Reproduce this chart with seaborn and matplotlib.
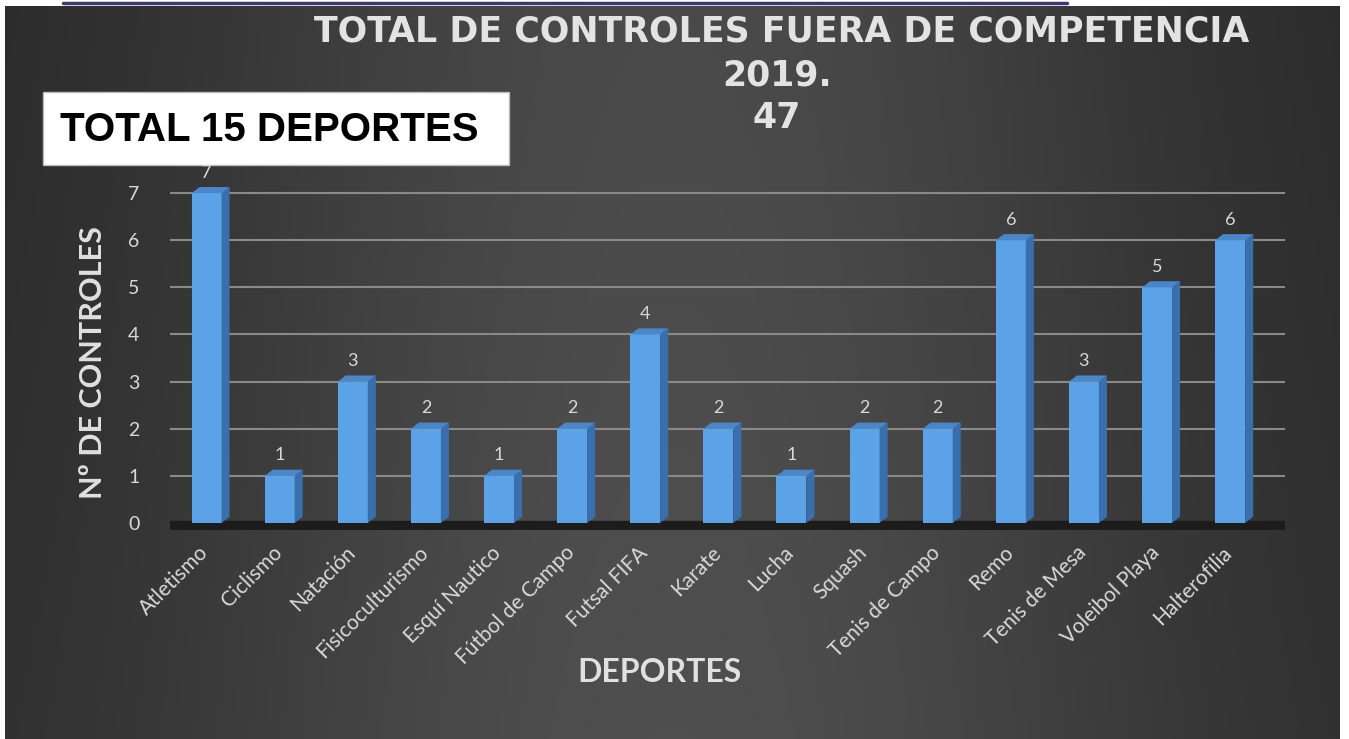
import matplotlib
matplotlib.use('Agg')
import matplotlib.pyplot as plt
import matplotlib.transforms as mtransforms
import seaborn as sns
import numpy as np
import pandas as pd
from matplotlib.patches import Polygon, Rectangle

# datos
deportes = ['Atletismo', 'Ciclismo', 'Natación', 'Fisicoculturismo', 'Esquí Nautico',
            'Fútbol de Campo', 'Futsal FIFA', 'Karate', 'Lucha', 'Squash',
            'Tenis de Campo', 'Remo', 'Tenis de Mesa', 'Voleibol Playa', 'Halterofilia']
controles = [7, 1, 3, 2, 1, 2, 4, 2, 1, 2, 2, 6, 3, 5, 6]
y_ticks = [0, 1, 2, 3, 4, 5, 6, 7]

titulo = 'TOTAL DE CONTROLES FUERA DE COMPETENCIA'
subtitulo = '2019.'
total = '47'
recuadro = 'TOTAL 15 DEPORTES'

df = pd.DataFrame({'deporte': deportes, 'controles': controles})

sns.set_style('dark')
plt.rcParams['font.family'] = ['Lato', 'DejaVu Sans']

W, H = 1349, 739
fig = plt.figure(figsize=(W / 100, H / 100), dpi=100)
fig.patch.set_facecolor('white')

# fondo con degradado
bg = fig.add_axes([0, 0, 1, 1])
bg.set_xlim(0, W)
bg.set_ylim(H, 0)
bg.axis('off')
u = np.linspace(0, 1, 400)
v = np.linspace(0, 1, 200)
U, V = np.meshgrid(u, v)
val = 0.15 + 0.14 * np.exp(-((U - 0.5) / 0.38) ** 2) + 0.02 * V
img = np.dstack([val, val, val])
bg.imshow(img, extent=(5, 1340, H, 6), aspect='auto', zorder=0)
bg.plot([63, 1067], [3, 3], color='#3b3a6e', lw=2.5, zorder=1)

# grafico
ax = fig.add_axes([170 / W, 1 - 530 / H, (1285 - 170) / W, (530 - 179) / H])
ax.patch.set_alpha(0)

sns.barplot(data=df, x='deporte', y='controles', ax=ax, color='#5ba2e6',
            saturation=1, width=0.41, linewidth=0, zorder=3)

ax.set_xlim(-0.5, 14.75)
ax.set_ylim(-0.15, 7.3)

# caras laterales / superiores (efecto 3D)
dx, dy = 0.11, 0.13
for p in ax.patches:
    x0 = p.get_x()
    x1 = x0 + p.get_width()
    h = p.get_height()
    side = Polygon([(x1, 0), (x1 + dx, dy), (x1 + dx, h + dy), (x1, h)],
                   closed=True, facecolor='#3a6fae', edgecolor='none', zorder=3)
    top = Polygon([(x0, h), (x1, h), (x1 + dx, h + dy), (x0 + dx, h + dy)],
                  closed=True, facecolor='#4a86c8', edgecolor='none', zorder=3)
    ax.add_patch(side)
    ax.add_patch(top)

ax.axhspan(-0.15, 0.05, color='#1c1c1c', zorder=2)

ax.bar_label(ax.containers[0], padding=9, color='#d9d9d9', fontsize=13)

ax.set_yticks(y_ticks)
ax.yaxis.grid(True, color='#8a8a8a', lw=1.5)
ax.xaxis.grid(False)
ax.set_axisbelow(True)
for s in ax.spines.values():
    s.set_visible(False)

ax.tick_params(axis='y', length=0, pad=22, labelcolor='#d9d9d9', labelsize=14)
ax.tick_params(axis='x', length=0, pad=9, labelcolor='#d9d9d9', labelsize=15)
shift = mtransforms.ScaledTranslation(-8 / 100, 0, fig.dpi_scale_trans)
for lbl in ax.get_xticklabels():
    lbl.set_rotation(45)
    lbl.set_ha('right')
    lbl.set_rotation_mode('anchor')
    lbl.set_transform(lbl.get_transform() + shift)

ax.set_xlabel('DEPORTES', fontsize=23, fontweight='bold', color='#e0e0e0')
ax.xaxis.set_label_coords((659 - 170) / 1115, (530 - 673) / 351)
ax.xaxis.label.set_va('center')
ax.set_ylabel('Nº DE CONTROLES', fontsize=22, fontweight='bold', color='#e0e0e0')
ax.yaxis.set_label_coords((93 - 170) / 1115, (530 - 363) / 351)
ax.yaxis.label.set_va('center')

# titulos
tfont = dict(ha='center', va='center', fontsize=25, fontweight='bold', color='#e3e3e3',
             family=['DejaVu Sans'])
fig.text(782 / W, 1 - 32 / H, titulo, **tfont)
fig.text(777 / W, 1 - 75 / H, subtitulo, **tfont)
fig.text(777 / W, 1 - 118 / H, total, **tfont)

# recuadro blanco
bg.add_patch(Rectangle((43, 92), 466, 73, facecolor='white', edgecolor='#bbbbbb', lw=1, zorder=2))
fig.text(269 / W, 1 - 130 / H, recuadro, ha='center', va='center', fontsize=29,
         fontweight='bold', color='black', family=['Liberation Sans', 'DejaVu Sans'])

fig.savefig('out.png', dpi=100, facecolor=fig.get_facecolor())
